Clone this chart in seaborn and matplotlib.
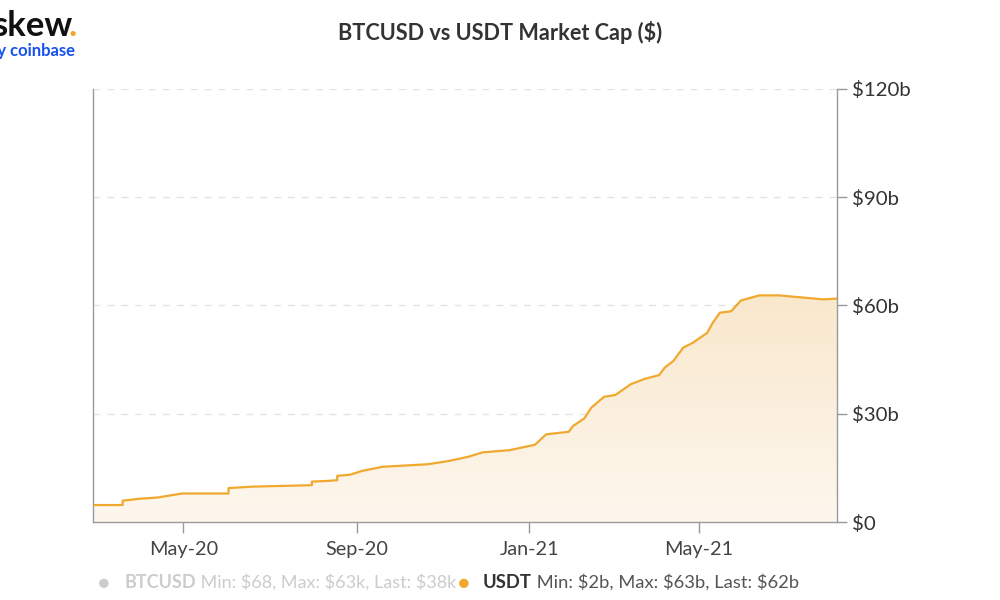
import numpy as np
import pandas as pd
import matplotlib
matplotlib.use("Agg")
import matplotlib.pyplot as plt
import matplotlib.dates as mdates
from matplotlib.colors import LinearSegmentedColormap
import seaborn as sns

# ---- data ----
dates = ["2020-02-28", "2020-03-19", "2020-03-19", "2020-03-30", "2020-04-13", "2020-04-30",
         "2020-06-02", "2020-06-02", "2020-06-19", "2020-07-31", "2020-07-31", "2020-08-12",
         "2020-08-18", "2020-08-18", "2020-08-27", "2020-09-05", "2020-09-19", "2020-10-21",
         "2020-11-05", "2020-11-19", "2020-11-29", "2020-12-18", "2021-01-05", "2021-01-13",
         "2021-01-29", "2021-02-01", "2021-02-09", "2021-02-14", "2021-02-23", "2021-03-03",
         "2021-03-14", "2021-03-24", "2021-04-03", "2021-04-07", "2021-04-13", "2021-04-20",
         "2021-04-27", "2021-05-07", "2021-05-11", "2021-05-16", "2021-05-24", "2021-05-31",
         "2021-06-13", "2021-06-27", "2021-07-28", "2021-08-07"]
usdt_cap_b = [4.7, 4.7, 5.9, 6.4, 6.8, 7.9,
              7.9, 9.4, 9.8, 10.2, 11.2, 11.4,
              11.6, 12.8, 13.1, 14.2, 15.3, 16.0,
              16.9, 18.1, 19.3, 19.9, 21.4, 24.3,
              25.0, 26.6, 28.7, 31.7, 34.7, 35.2,
              38.2, 39.7, 40.7, 42.8, 44.6, 48.3,
              49.7, 52.4, 55.2, 58.0, 58.4, 61.4,
              62.8, 62.8, 61.7, 61.9]
y_ticks = [0, 30, 60, 90, 120]
y_tick_labels = ["$0", "$30b", "$60b", "$90b", "$120b"]
x_ticks = ["2020-05-01", "2020-09-01", "2021-01-01", "2021-05-01"]
title = "BTCUSD vs USDT Market Cap ($)"
legend_names = ["BTCUSD", "USDT"]
legend_stats = ["Min: $68, Max: $63k, Last: $38k", "Min: $2b, Max: $63b, Last: $62b"]

df = pd.DataFrame({"date": pd.to_datetime(dates), "cap": usdt_cap_b})

sns.set_theme(style="white")
plt.rcParams["font.family"] = ["Lato", "DejaVu Sans"]

LINE = "#f0a92e"
AXC = "#9a9a9a"
TXT = "#333333"

fig = plt.figure(figsize=(10, 6), dpi=100)
ax = fig.add_axes([0.093, 0.13, 0.744, 0.7217])

# gradient fill under the line
xnum = mdates.date2num(df["date"])
poly = ax.fill_between(df["date"], 0, df["cap"], color="none", lw=0)
cmap = LinearSegmentedColormap.from_list("g", ["#fdf7ee", "#f9e8cc"])
grad = np.linspace(0, 1, 256).reshape(-1, 1)
img = ax.imshow(grad, cmap=cmap, origin="lower", aspect="auto",
                extent=[xnum.min(), xnum.max(), 0, 63], zorder=1)
img.set_clip_path(poly.get_paths()[0], transform=ax.transData)

sns.lineplot(data=df, x="date", y="cap", ax=ax, color=LINE, lw=1.6, zorder=3,
             estimator=None, sort=False)

ax.set_xlim(pd.Timestamp("2020-02-27"), pd.Timestamp("2021-08-07"))
ax.set_ylim(0, 120)

ax.yaxis.tick_right()
ax.set_yticks(y_ticks)
ax.set_yticklabels(y_tick_labels)
ax.set_xticks(pd.to_datetime(x_ticks))
ax.xaxis.set_major_formatter(mdates.DateFormatter("%b-%y"))
ax.set_xlabel("")
ax.set_ylabel("")

for y in y_ticks[1:]:
    ax.axhline(y, color="#e4e4e4", lw=1, ls=(0, (5, 5)), zorder=0)

for s in ["left", "right", "bottom"]:
    ax.spines[s].set_visible(True)
    ax.spines[s].set_color(AXC)
    ax.spines[s].set_linewidth(1)
ax.spines["top"].set_visible(False)

ax.tick_params(axis="y", which="major", right=True, left=False, length=7, width=1,
               color=AXC, labelsize=14.7, labelcolor=TXT, pad=4)
ax.tick_params(axis="x", which="major", bottom=True, length=8, width=1,
               color=AXC, labelsize=14.3, labelcolor="#444444", pad=6)
ax.grid(False)

fig.text(0.5, 0.945, title, ha="center", va="center", fontsize=15.6,
         fontweight="bold", color=TXT)

# logo
fig.text(-0.008, 0.957, "skew", ha="left", va="center", fontsize=25,
         fontweight="bold", color="#111111")
fig.text(0.068, 0.957, ".", ha="left", va="center", fontsize=25,
         fontweight="bold", color="#f5a623")
fig.text(-0.012, 0.915, "by coinbase", ha="left", va="center", fontsize=12,
         fontweight="bold", color="#1652f0")

# legend
fig.text(0.104, 0.027, "\u25CF", ha="center", va="center", fontsize=14, color="#cccccc")
t1 = fig.text(0.124, 0.03, legend_names[0], ha="left", va="center", fontsize=13,
              fontweight="bold", color="#cccccc")
ax.annotate(" " + legend_stats[0], xy=(1, 0.5), xycoords=t1, ha="left", va="center",
            fontsize=13, color="#cccccc", annotation_clip=False)
fig.text(0.464, 0.027, "\u25CF", ha="center", va="center", fontsize=14, color=LINE)
t2 = fig.text(0.483, 0.03, legend_names[1], ha="left", va="center", fontsize=13.2,
              fontweight="bold", color=TXT)
ax.annotate(" " + legend_stats[1], xy=(1, 0.5), xycoords=t2, ha="left", va="center",
            fontsize=13.2, color="#555555", annotation_clip=False)

fig.savefig("out.png", dpi=100)
